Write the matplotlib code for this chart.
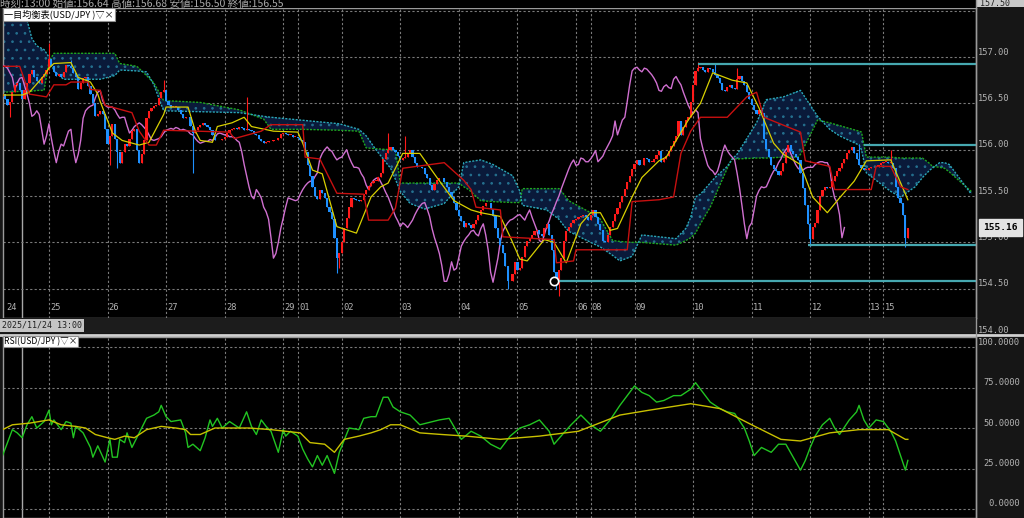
import numpy as np
import matplotlib.pyplot as plt
from matplotlib.patches import Rectangle
from matplotlib.transforms import blended_transform_factory

plt.rcParams['font.family'] = ['Noto Sans CJK JP', 'DejaVu Sans']
plt.rcParams['hatch.linewidth'] = 0.7

# ---- hourly closes, USD/JPY, 2025/11/24 05:00 .. 2025/12/15 16:00 ----
closes = [
    # 24
    156.60, 156.55, 156.48, 156.52, 156.62, 156.70, 156.72, 156.64, 156.55, 156.64,
    156.72, 156.82, 156.86, 156.78, 156.74, 156.72, 156.78, 156.82, 156.86,
    # 25
    156.98, 156.90, 156.84, 156.80, 156.82, 156.78, 156.84, 156.91, 156.90, 156.88,
    156.83, 156.78, 156.65, 156.72, 156.77, 156.78, 156.69, 156.60, 156.50, 156.36,
    156.38, 156.42, 156.38, 156.22,
    # 26
    156.06, 156.15, 156.28, 156.12, 155.98, 155.86, 155.98, 156.06, 156.04, 156.12,
    156.20, 156.22, 156.00, 155.86, 155.95, 156.10, 156.34, 156.42, 156.45, 156.47,
    156.48, 156.56, 156.62, 156.64,
    # 27
    156.53, 156.48, 156.46, 156.46, 156.46, 156.43, 156.38, 156.34, 156.35, 156.35,
    156.26, 156.18, 156.21, 156.25, 156.27, 156.29, 156.27, 156.24, 156.21, 156.16,
    156.11, 156.10, 156.11, 156.12,
    # 28
    156.14, 156.18, 156.21, 156.22, 156.23, 156.22, 156.24, 156.23, 156.21, 156.22,
    156.21, 156.20, 156.17, 156.16, 156.12, 156.09, 156.07, 156.08, 156.09, 156.09,
    156.11, 156.10, 156.13, 156.17,
    # 29
    156.18, 156.17, 156.16, 156.16, 156.14, 156.14,
    # 01
    156.13, 156.10, 156.08, 155.98, 155.84, 155.72, 155.60, 155.50, 155.47, 155.57,
    155.53, 155.48, 155.38, 155.33, 155.25, 155.05, 154.83, 154.88,
    # 02
    155.00, 155.15, 155.26, 155.38, 155.48, 155.47, 155.46, 155.45, 155.46, 155.52,
    155.57, 155.61, 155.64, 155.66, 155.66, 155.71, 155.75, 155.90, 155.96, 156.00,
    156.03, 156.00, 155.98, 155.93,
    # 03
    155.89, 155.91, 155.92, 155.96, 156.00, 155.92, 155.86, 155.81, 155.81, 155.80,
    155.74, 155.70, 155.62, 155.57, 155.63, 155.67, 155.69, 155.70, 155.65, 155.60,
    155.54, 155.49, 155.42, 155.35,
    # 04
    155.28, 155.23, 155.17, 155.21, 155.19, 155.16, 155.20, 155.24, 155.30, 155.35,
    155.39, 155.42, 155.43, 155.36, 155.28, 155.15, 155.05, 154.97, 154.88, 154.75,
    154.58, 154.58, 154.66, 154.79,
    # 05
    154.70, 154.72, 154.84, 154.96, 155.01, 155.05, 155.08, 155.12, 155.13, 155.09,
    155.07, 155.15, 155.20, 155.08, 154.92, 154.68, 154.57, 154.70, 154.83, 155.01,
    155.12, 155.17, 155.21, 155.24,
    # 06
    155.25, 155.27, 155.29, 155.30, 155.27, 155.24,
    # 08
    155.30, 155.35, 155.27, 155.20, 155.13, 155.02, 155.00, 155.08, 155.17, 155.23,
    155.31, 155.37, 155.44, 155.50, 155.58, 155.65, 155.72, 155.79,
    # 09
    155.85, 155.89, 155.83, 155.84, 155.91, 155.90, 155.87, 155.87, 155.90, 155.94,
    155.99, 155.87, 155.90, 155.93, 155.99, 156.04, 156.09, 156.15, 156.31, 156.16,
    156.24, 156.32, 156.35, 156.52,
    # 10
    156.70, 156.85, 156.88, 156.89, 156.86, 156.84, 156.88, 156.87, 156.84, 156.81,
    156.77, 156.72, 156.64, 156.63, 156.68, 156.70, 156.67, 156.66, 156.76, 156.79,
    156.74, 156.70, 156.62, 156.55,
    # 11
    156.48, 156.43, 156.39, 156.43, 156.40, 156.12, 156.01, 155.92, 155.83, 155.79,
    155.77, 155.73, 155.77, 155.86, 155.97, 156.05, 155.99, 155.95, 155.92, 155.89,
    155.75, 155.59, 155.40, 155.20,
    # 12
    155.04, 155.17, 155.21, 155.35, 155.50, 155.56, 155.60, 155.59, 155.60, 155.66,
    155.72, 155.77, 155.80, 155.86, 155.90, 155.96, 156.00, 156.03, 155.96, 155.90,
    155.84, 155.80, 155.78, 155.78,
    # 13
    155.80, 155.81, 155.81, 155.81, 155.84, 155.86,
    # 15
    155.87, 155.87, 155.86, 155.86, 155.80, 155.60, 155.48, 155.43, 155.30, 155.05,
    155.16,
]
first_open = 156.58
wick_highs = {19: 157.15, 28: 156.97, 66: 156.75, 100: 156.57, 158: 156.18,
              165: 156.15, 285: 156.95, 292: 156.93, 301: 156.88, 351: 156.06,
              364: 156.00}
wick_lows = {3: 156.35, 44: 155.84, 47: 155.80, 78: 155.75, 137: 154.67,
             138: 154.72, 207: 154.50, 227: 154.50, 228: 154.42, 331: 154.96,
             370: 154.95}

tenkan_bars = [0, 8, 11, 17, 19, 21, 28, 31, 36, 39, 40, 45, 49, 56, 60, 62, 66, 67, 76, 79,
               81, 86, 88, 94, 99, 102, 111, 121, 123, 127, 131, 137, 145, 151, 155, 158, 164,
               171, 178, 185, 192, 196, 204, 208, 212, 215, 222, 226, 231, 237, 241, 245, 249,
               252, 258, 262, 269, 272, 281, 286, 291, 299, 305, 310, 316, 320, 327, 332, 338,
               343, 349, 354, 364, 371]
tenkan_vals = [156.59, 156.59, 156.62, 156.80, 156.88, 156.93, 156.94, 156.78, 156.73, 156.60,
               156.52, 156.18, 156.10, 156.05, 156.08, 156.18, 156.38, 156.46, 156.46, 156.20,
               156.10, 156.08, 156.25, 156.29, 156.35, 156.25, 156.20, 156.19, 156.07, 155.78,
               155.74, 155.17, 155.10, 155.49, 155.60, 155.64, 155.96, 155.96, 155.70, 155.45,
               155.35, 155.32, 155.28, 155.06, 154.82, 154.80, 155.03, 155.00, 154.78, 155.20,
               155.32, 155.32, 155.13, 155.15, 155.49, 155.70, 155.88, 155.92, 156.32, 156.50,
               156.83, 156.75, 156.72, 156.45, 156.07, 155.95, 155.84, 155.49, 155.32, 155.48,
               155.66, 155.88, 155.89, 155.46]

kijun_bars = [0, 7, 11, 18, 21, 26, 28, 35, 36, 40, 42, 53, 56, 60, 63, 66, 93, 95, 106, 110,
              123, 124, 130, 137, 148, 150, 158, 161, 164, 181, 189, 192, 194, 204, 205, 226,
              227, 234, 235, 256, 258, 269, 275, 278, 282, 286, 297, 305, 309, 312, 327, 329,
              339, 341, 356, 358, 364, 368, 371]
kijun_vals = [156.90, 156.90, 156.60, 156.57, 156.70, 156.70, 156.73, 156.73, 156.65, 156.64,
              156.48, 156.40, 156.20, 156.05, 156.05, 156.21, 156.19, 156.12, 156.20, 156.27,
              156.27, 155.92, 155.90, 155.53, 155.52, 155.24, 155.24, 155.37, 155.80, 155.86,
              155.67, 155.57, 155.38, 155.35, 155.06, 155.03, 154.78, 154.80, 154.92, 154.92,
              155.44, 155.46, 155.49, 155.96, 156.20, 156.35, 156.35, 156.57, 156.62, 156.35,
              156.19, 155.88, 155.82, 155.57, 155.57, 155.82, 155.82, 155.60, 155.57]

cloud_bars = [0, 8, 10, 12, 14, 17, 19, 21, 25, 33, 40, 46, 48, 55, 59, 62, 66, 81, 97, 107,
              110, 122, 138, 146, 149, 153, 159, 161, 163, 167, 173, 181, 187, 189, 191, 196,
              201, 209, 212, 213, 223, 228, 230, 232, 241, 245, 250, 253, 258, 262, 276, 280,
              282, 284, 286, 290, 292, 297, 299, 301, 309, 313, 320, 326, 327, 334, 339, 343,
              351, 352, 354, 364, 368, 374, 377, 380, 381, 384, 386, 388, 397]
span_a = [156.62, 156.63, 156.63, 156.63, 156.64, 156.64, 156.95, 157.04, 157.04, 157.04,
          157.04, 157.04, 156.93, 156.90, 156.80, 156.72, 156.53, 156.51, 156.43, 156.33,
          156.22, 156.22, 156.21, 156.20, 156.02, 156.01, 156.00, 156.00, 155.64, 155.64,
          155.64, 155.64, 155.64, 155.60, 155.57, 155.45, 155.44, 155.43, 155.43, 155.58,
          155.58, 155.58, 155.52, 155.45, 155.32, 155.25, 155.02, 155.01, 155.00, 155.00,
          154.97, 155.02, 155.05, 155.10, 155.20, 155.38, 155.50, 155.80, 155.90, 155.90,
          155.91, 155.91, 155.92, 155.92, 155.95, 156.32, 156.29, 156.26, 156.20, 156.19,
          155.92, 155.92, 155.91, 155.91, 155.91, 155.85, 155.82, 155.81, 155.80, 155.76,
          155.55]
span_b = [157.55, 157.55, 157.40, 157.20, 157.12, 157.08, 157.00, 156.85, 156.76, 156.76,
          156.76, 156.80, 156.86, 156.85, 156.84, 156.70, 156.42, 156.41, 156.40, 156.36,
          156.35, 156.32, 156.28, 156.22, 156.15, 156.00, 155.80, 155.68, 155.55, 155.42,
          155.36, 155.42, 155.60, 155.86, 155.87, 155.89, 155.84, 155.72, 155.55, 155.40,
          155.35, 155.25, 155.18, 155.12, 155.00, 154.95, 154.86, 154.80, 154.85, 155.08,
          155.04, 155.15, 155.27, 155.49, 155.52, 155.64, 155.70, 155.82, 155.90, 155.95,
          156.29, 156.54, 156.57, 156.63, 156.64, 156.36, 156.22, 156.15, 156.05, 156.00,
          155.75, 155.55, 155.49, 155.60, 155.70, 155.78, 155.80, 155.86, 155.86, 155.84,
          155.52]

rsi = [(0, 33), (2, 41), (4, 49), (6, 47), (8, 44), (10, 52), (12, 57), (14, 50), (17, 54),
       (19, 61), (20, 52), (21, 55), (24, 49), (26, 54), (28, 53), (29, 44), (30, 51), (33, 47),
       (36, 38), (37, 32), (39, 39), (42, 29), (44, 43), (45, 32), (47, 32), (48, 43), (50, 41),
       (51, 47), (53, 38), (55, 44), (59, 56), (62, 58), (64, 60), (65, 64), (67, 57), (69, 54),
       (73, 55), (75, 47), (76, 38), (78, 40), (81, 36), (83, 44), (85, 55), (86, 51), (88, 56),
       (90, 50), (93, 54), (95, 52), (97, 50), (100, 60), (102, 51), (104, 46), (106, 55),
       (108, 51), (110, 48), (113, 35), (115, 49), (116, 45), (118, 48), (121, 45), (123, 37),
       (125, 31), (127, 26), (129, 33), (131, 27), (133, 33), (136, 22), (138, 35), (142, 50),
       (146, 49), (148, 56), (151, 57), (153, 57), (156, 69), (158, 69), (160, 63), (163, 60),
       (167, 58), (171, 52), (179, 55), (183, 56), (188, 43), (192, 48), (196, 45), (200, 40),
       (204, 37), (208, 45), (212, 50), (216, 52), (220, 55), (224, 48), (226, 40), (230, 47),
       (233, 52), (237, 58), (241, 52), (245, 48), (249, 55), (253, 64), (256, 70), (259, 76),
       (262, 72), (265, 70), (268, 66), (271, 67), (275, 70), (278, 70), (282, 74), (284, 78),
       (287, 72), (290, 66), (294, 62), (297, 60), (300, 59), (304, 50), (306, 42), (308, 33),
       (311, 38), (315, 35), (318, 40), (321, 40), (324, 32), (327, 24), (329, 30), (331, 38),
       (333, 45), (336, 52), (339, 56), (341, 50), (343, 46), (347, 55), (350, 60), (351, 64),
       (353, 55), (355, 50), (358, 55), (361, 54), (364, 48), (366, 42), (368, 33), (370, 24),
       (371, 30)]
rsi_ma = [(0, 49), (4, 52), (11, 53), (19, 55), (24, 52), (30, 51), (34, 50), (38, 46), (43, 44),
          (46, 43), (50, 45), (54, 44), (59, 49), (65, 51), (71, 50), (75, 49), (77, 46), (81, 46),
          (87, 50), (101, 50), (110, 49), (116, 48), (122, 47), (126, 41), (132, 40), (136, 35),
          (140, 43), (146, 45), (151, 47), (155, 49), (159, 52), (163, 52), (171, 47), (180, 46),
          (190, 45), (204, 43), (220, 45), (236, 48), (253, 58), (265, 61), (282, 65), (294, 62),
          (307, 52), (319, 43), (327, 42), (339, 47), (351, 49), (363, 49), (370, 43), (371, 43)]

sr_levels = [156.93, 156.05, 154.97, 154.58]
sr_start = [285, 353, 330, 226]
low_mark = (226, 154.58)
cursor_bar = 8

day_labels = ['24', '25', '26', '27', '28', '29', '01', '02', '03', '04', '05', '06', '08',
              '09', '10', '11', '12', '13', '15']
day_bars = [1, 19, 43, 67, 91, 115, 121, 139, 163, 187, 211, 235, 241, 259, 283, 307, 331,
            355, 361]
hour_labels = ['', '', '00', '00', '00', '00', '06', '00', '00', '00', '00', '00', '06', '00',
               '00', '00', '00', '00', '06']
price_ticks = [157.0, 156.5, 156.0, 155.5, 155.0, 154.5, 154.0]
top_tick = 157.5
rsi_ticks = [100, 75, 50, 25, 0]

header = '時刻:13:00 始値:156.64 高値:156.68 安値:156.50 終値:156.55'

UP = '#ff1a1a'
DOWN = '#1e90ff'
GRID = '#7a7a7a'
TXT = '#b4b4b4'
MONO = 'DejaVu Sans Mono'

W, H = 1024, 518
fig = plt.figure(figsize=(W / 100, H / 100), dpi=100, facecolor='#161616')

L, R = 3, 976
ax = fig.add_axes([L / W, 1 - 318 / H, (R - L) / W, 310 / H], facecolor='black')
ax2 = fig.add_axes([L / W, 0, (R - L) / W, 181 / H], facecolor='black')

x0, x1 = (L - 2.6) / 2.44, (R - 2.6) / 2.44
ax.set_xlim(x0, x1)
ax.set_ylim(154.184, 157.529)
ax2.set_xlim(x0, x1)
ax2.set_ylim(-5.56, 106.2)

for a in (ax, ax2):
    a.set_xticks([])
    a.set_yticks([])
    for s in a.spines.values():
        s.set_color('#9a9a9a')
        s.set_linewidth(1)
    for b in day_bars[1:]:
        a.axvline(b, color=GRID, lw=0.8, ls=(0, (2, 2)), zorder=0)
    a.axvline(cursor_bar, color='#a8a8a8', lw=1, zorder=0)

for p in [top_tick] + price_ticks[:-1]:
    ax.axhline(p, color=GRID, lw=0.8, ls=(0, (2, 2)), zorder=0)
for v in rsi_ticks:
    ax2.axhline(v, color=GRID, lw=0.8, ls=(0, (2, 2)), zorder=0)

# ---- ichimoku cloud ----
ax.fill_between(cloud_bars, span_a, span_b, facecolor='#0a1a3a', edgecolor='#25708f',
                hatch='..', linewidth=0, zorder=1)
ax.plot(cloud_bars, span_a, color='#1fa81f', lw=1, ls=(0, (1.5, 1)), zorder=2)
ax.plot(cloud_bars, span_b, color='#2aa8b8', lw=1, ls=(0, (1.5, 1)), zorder=2)

# ---- chikou span ----
bars = np.arange(len(closes))
c = np.array(closes)
ax.plot(bars[:-26], c[26:], color='#d070d0', lw=1, zorder=3)

# ---- candles ----
o = np.array([first_open] + closes[:-1])
top = np.maximum(o, c)
bot = np.minimum(o, c)
hi = top.copy()
lo = bot.copy()
for b, v in wick_highs.items():
    hi[b] = max(hi[b], v)
for b, v in wick_lows.items():
    lo[b] = min(lo[b], v)
cols = np.where(c >= o, UP, DOWN)
ax.vlines(bars, lo, hi, colors=cols, lw=0.8, zorder=4)
ax.bar(bars, np.maximum(top - bot, 0.008), bottom=bot, width=0.9, color=cols, lw=0, zorder=5)

ax.plot(tenkan_bars, tenkan_vals, color='#d8d000', lw=0.9, zorder=6)
ax.plot(kijun_bars, kijun_vals, color='#c81010', lw=1, zorder=6)

for lvl, b in zip(sr_levels, sr_start):
    ax.plot([b, x1], [lvl, lvl], color='#46a8b0', lw=1.6, zorder=7, solid_capstyle='butt')
ax.plot(*low_mark, marker='o', ms=6, mfc='black', mec='white', mew=1.2, zorder=8)

# ---- rsi ----
ax2.plot([p[0] for p in rsi], [p[1] for p in rsi], color='#22c422', lw=1, zorder=3)
ax2.plot([p[0] for p in rsi_ma], [p[1] for p in rsi_ma], color='#c8c000', lw=1, zorder=4)

# ---- date labels ----
tb = blended_transform_factory(ax.transData, ax.transAxes)
for lab, b, hl in zip(day_labels, day_bars, hour_labels):
    ax.text(b + 0.5, 0.02, lab, transform=tb, color=TXT, fontsize=6.3, family=MONO,
            ha='left', va='bottom')
    if hl:
        ax.text(b + 0.5, -0.024, hl, transform=tb, color=TXT, fontsize=6.3, family=MONO,
                ha='left', va='center', clip_on=False)

# ---- right axis labels ----
tr = blended_transform_factory(ax.transAxes, ax.transData)
for p in price_ticks:
    ax.annotate(f'{p:.2f}', xy=(1, p), xycoords=tr, xytext=(2, 5), textcoords='offset pixels',
                color=TXT, fontsize=6.3, family=MONO, ha='left', va='center',
                annotation_clip=False)
tr2 = blended_transform_factory(ax2.transAxes, ax2.transData)
for v in rsi_ticks:
    ax2.annotate(f'{v:.4f}', xy=(1, v), xycoords=tr2, xytext=(44, 5), textcoords='offset pixels',
                 color=TXT, fontsize=6.3, family=MONO, ha='right', va='center',
                 annotation_clip=False)
ax.annotate(f'{closes[-1]:.2f}', xy=(1, closes[-1]), xycoords=tr, xytext=(24, 0),
            textcoords='offset pixels', color='black', fontsize=6.8, family=MONO,
            fontweight='bold', ha='center', va='center', annotation_clip=False, zorder=20,
            bbox=dict(boxstyle='square,pad=0.45', fc='#e4e4e4', ec='#e4e4e4'))

# ---- frame decorations in pixel space ----
ov = fig.add_axes([0, 0, 1, 1], facecolor='none')
ov.set_xlim(0, W)
ov.set_ylim(H, 0)
ov.axis('off')
ov.add_patch(Rectangle((0, 0), R, 8, fc='black', ec='none'))
ov.add_patch(Rectangle((0, 318), R, 15, fc='#1c1c1c', ec='none'))
ov.plot([0, W], [334.5, 334.5], color='#d0d0d0', lw=2)
ov.plot([R, R], [0, H], color='#9a9a9a', lw=1)
ov.add_patch(Rectangle((R + 1, 0), W - R, 7, fc='#c8c8c8', ec='none'))
ov.text(R + 4, 3.5, f'{top_tick:.2f}', color='#202020', fontsize=6.0, family=MONO,
        va='center')
ov.text(0, 3.5, header, color='#a8a8a8', fontsize=7.6, va='center', ha='left')
ov.text(4, 14.5, '一目均衡表(USD/JPY )▽×', color='black', fontsize=6.6, va='center', ha='left',
        bbox=dict(boxstyle='square,pad=0.12', fc='white', ec='#909090', lw=0.8))
ov.text(4, 341.5, 'RSI(USD/JPY )▽×', color='black', fontsize=6.2, va='center', ha='left',
        bbox=dict(boxstyle='square,pad=0.12', fc='white', ec='#909090', lw=0.8))
ov.add_patch(Rectangle((0, 319), 84, 13, fc='#c4c4c4', ec='none'))
ov.text(2, 325.5, '2025/11/24 13:00', color='#202020', fontsize=6.0, family=MONO, va='center')

fig.savefig('out.png', dpi=100, facecolor=fig.get_facecolor())
